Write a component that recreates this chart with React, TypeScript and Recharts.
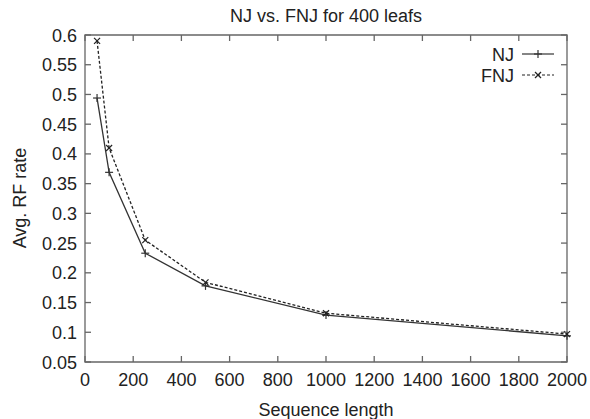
import React from 'react';
import { LineChart, Line, XAxis, YAxis } from 'recharts';

const lengths = [50, 100, 250, 500, 1000, 2000];
const njValues = [0.494, 0.369, 0.233, 0.178, 0.129, 0.094];
const fnjValues = [0.59, 0.41, 0.255, 0.184, 0.132, 0.097];
const xTicks = [0, 200, 400, 600, 800, 1000, 1200, 1400, 1600, 1800, 2000];
const yTicks = [0.05, 0.1, 0.15, 0.2, 0.25, 0.3, 0.35, 0.4, 0.45, 0.5, 0.55, 0.6];

const data = lengths.map((len, i) => ({ len, nj: njValues[i], fnj: fnjValues[i] }));

const FONT = 'Liberation Sans, Arial, sans-serif';
const AXIS = '#666666';
const TICK = 6;
const W = 590;
const H = 419;
const M_TOP = 35;
const M_RIGHT = 23;
const Y_AXIS_W = 85;
const X_AXIS_H = 57;
const PLOT_TOP = M_TOP;
const PLOT_RIGHT = W - M_RIGHT;

const PlusDot = (props: any) => {
  const { cx, cy } = props;
  if (cx == null || cy == null) return null;
  return (
    <g>
      <line x1={cx - 4} y1={cy} x2={cx + 4} y2={cy} stroke="#333" strokeWidth={1.2} />
      <line x1={cx} y1={cy - 4} x2={cx} y2={cy + 4} stroke="#333" strokeWidth={1.2} />
    </g>
  );
};

const CrossDot = (props: any) => {
  const { cx, cy } = props;
  if (cx == null || cy == null) return null;
  return (
    <g>
      <line x1={cx - 3} y1={cy - 3} x2={cx + 3} y2={cy + 3} stroke="#222" strokeWidth={1.2} />
      <line x1={cx - 3} y1={cy + 3} x2={cx + 3} y2={cy - 3} stroke="#222" strokeWidth={1.2} />
    </g>
  );
};

const fmt = (v: number) => String(Math.round(v * 100) / 100);

const XTick = (p: any) => {
  const { x, y, payload } = p;
  return (
    <g>
      <path d={`M${x},${y}L${x},${y - TICK}`} stroke={AXIS} strokeWidth={1.3} fill="none" />
      <path d={`M${x},${PLOT_TOP}L${x},${PLOT_TOP + TICK}`} stroke={AXIS} strokeWidth={1.3} fill="none" />
      <text x={x} y={y + 23.5} textAnchor="middle" fontFamily={FONT} fontSize={18} fill="#222">
        {String(payload.value)}
      </text>
    </g>
  );
};

const YTick = (p: any) => {
  const { x, y, payload } = p;
  return (
    <g>
      <path d={`M${x},${y}L${x + TICK},${y}`} stroke={AXIS} strokeWidth={1.3} fill="none" />
      <path d={`M${PLOT_RIGHT},${y}L${PLOT_RIGHT - TICK},${y}`} stroke={AXIS} strokeWidth={1.3} fill="none" />
      <text x={x - 8} y={y + 6.5} textAnchor="end" fontFamily={FONT} fontSize={18} fill="#222">
        {fmt(payload.value)}
      </text>
    </g>
  );
};

const TitleAndLegend = () => (
  <g>
    <text x={326} y={21.5} textAnchor="middle" fontFamily={FONT} fontSize={18} fill="#222">
      NJ vs. FNJ for 400 leafs
    </text>
    <text x={514} y={60.5} textAnchor="end" fontFamily={FONT} fontSize={18} fill="#222">NJ</text>
    <line x1={522} y1={54} x2={554} y2={54} stroke="#333" strokeWidth={1.2} />
    <PlusDot cx={538} cy={54} />
    <text x={514} y={81.5} textAnchor="end" fontFamily={FONT} fontSize={18} fill="#222">FNJ</text>
    <line x1={522} y1={75} x2={554} y2={75} stroke="#222" strokeWidth={1.2} strokeDasharray="3 2" />
    <CrossDot cx={538} cy={75} />
  </g>
);

const XLabel = (p: any) => {
  const vb = p.viewBox || { x: Y_AXIS_W, y: H - X_AXIS_H, width: PLOT_RIGHT - Y_AXIS_W, height: X_AXIS_H };
  const left = vb.x;
  const right = vb.x + vb.width;
  const bottom = vb.y;
  return (
    <g>
      <path
        d={`M${left},${PLOT_TOP}L${right},${PLOT_TOP}L${right},${bottom}L${left},${bottom}Z`}
        stroke={AXIS}
        strokeWidth={1.3}
        fill="none"
      />
      <text x={(left + right) / 2} y={415.5} textAnchor="middle" fontFamily={FONT} fontSize={18} fill="#222">
        Sequence length
      </text>
      <TitleAndLegend />
    </g>
  );
};

export default function App() {
  return (
    <div style={{ position: 'absolute', left: 0, top: 0, background: '#fff' }}>
      <LineChart width={W} height={H} data={data} margin={{ top: M_TOP, right: M_RIGHT, bottom: 0, left: 0 }}>
        <XAxis
          xAxisId="b"
          dataKey="len"
          type="number"
          domain={[0, 2000]}
          ticks={xTicks}
          interval={0}
          height={X_AXIS_H}
          axisLine={false}
          tickLine={false}
          tickSize={0}
          tickMargin={0}
          tick={<XTick />}
          label={{ content: (p: any) => <XLabel {...p} /> }}
        />
        <YAxis
          yAxisId="l"
          type="number"
          domain={[0.05, 0.6]}
          ticks={yTicks}
          interval={0}
          width={Y_AXIS_W}
          axisLine={false}
          tickLine={false}
          tickSize={0}
          tickMargin={0}
          tick={<YTick />}
          label={{
            content: () => (
              <text
                x={26}
                y={198}
                transform="rotate(-90 26 198)"
                textAnchor="middle"
                fontFamily={FONT}
                fontSize={18}
                fill="#222"
              >
                Avg. RF rate
              </text>
            ),
          }}
        />
        <Line
          xAxisId="b"
          yAxisId="l"
          dataKey="nj"
          stroke="#333"
          strokeWidth={1.3}
          dot={<PlusDot />}
          isAnimationActive={false}
        />
        <Line
          xAxisId="b"
          yAxisId="l"
          dataKey="fnj"
          stroke="#222"
          strokeWidth={1.3}
          strokeDasharray="3 2"
          dot={<CrossDot />}
          isAnimationActive={false}
        />
      </LineChart>
    </div>
  );
}
